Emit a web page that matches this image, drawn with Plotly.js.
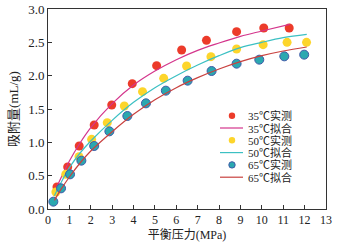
<!DOCTYPE html>
<html><head><meta charset="utf-8">
<script src="https://cdn.plot.ly/plotly-3.0.1.min.js"></script>
<style>html,body{margin:0;padding:0;background:#fff}#c{width:341px;height:246px}</style>
</head><body><div id="c"></div>
<script>
// measured data
const p35 = [0.42, 0.92, 1.46, 2.16, 2.98, 3.94, 5.08, 6.25, 7.41, 8.82, 10.09, 11.28];
const q35 = [0.33, 0.63, 0.945, 1.26, 1.56, 1.88, 2.15, 2.385, 2.53, 2.66, 2.715, 2.715];
const p50 = [0.37, 0.83, 1.45, 2.04, 2.77, 3.57, 4.42, 5.41, 6.48, 7.62, 8.82, 10.06, 11.18, 12.09];
const q50 = [0.255, 0.52, 0.785, 1.045, 1.295, 1.545, 1.76, 1.96, 2.145, 2.285, 2.4, 2.465, 2.5, 2.5];
const p65 = [0.25, 0.61, 1.03, 1.56, 2.16, 2.87, 3.71, 4.58, 5.51, 6.53, 7.65, 8.82, 9.88, 11.05, 11.98];
const q65 = [0.11, 0.31, 0.52, 0.725, 0.945, 1.165, 1.395, 1.585, 1.775, 1.925, 2.07, 2.18, 2.24, 2.29, 2.315];
// fitted curves
const fp35 = [0.3, 0.6, 1, 1.5, 2, 3, 4, 5, 6, 7, 8, 9, 10, 11.3];
const fq35 = [0.25, 0.46, 0.72, 0.99, 1.22, 1.58, 1.86, 2.07, 2.24, 2.38, 2.49, 2.59, 2.67, 2.77];
const fp50 = [0.3, 0.6, 1, 1.5, 2, 3, 4, 5, 6, 7, 8, 9, 10, 11, 12.1];
const fq50 = [0.2, 0.39, 0.62, 0.84, 1.02, 1.33, 1.6, 1.82, 2.0, 2.16, 2.3, 2.42, 2.5, 2.57, 2.62];
const fp65 = [0.3, 0.6, 1, 1.5, 2, 3, 4, 5, 6, 7, 8, 9, 10, 11, 12.1];
const fq65 = [0.13, 0.29, 0.48, 0.69, 0.87, 1.16, 1.42, 1.64, 1.82, 1.97, 2.1, 2.21, 2.3, 2.37, 2.43];
const names = ['35℃实测', '35℃拟合', '50℃实测', '50℃拟合', '65℃实测', '65℃拟合'];
const colors = ['#ec3b2a', '#d4358c', '#fdd52b', '#3cc0c3', '#2aa8b0', '#c9413f'];

const F = 'Liberation Serif, Noto Sans CJK SC, serif';
const traces = [
  {x: p35, y: q35, name: names[0], mode: 'markers', type: 'scatter',
   marker: {size: 9, color: colors[0]}},
  {x: fp35, y: fq35, name: names[1], mode: 'lines', type: 'scatter', line: {shape: 'spline', color: colors[1], width: 1.2}},
  {x: p50, y: q50, name: names[2], mode: 'markers', type: 'scatter',
   marker: {size: 9, color: colors[2]}},
  {x: fp50, y: fq50, name: names[3], mode: 'lines', type: 'scatter', line: {shape: 'spline', color: colors[3], width: 1.2}},
  {x: p65, y: q65, name: names[4], mode: 'markers', type: 'scatter',
   marker: {size: 9, color: colors[4], line: {color: '#3f5aa8', width: 1}}},
  {x: fp65, y: fq65, name: names[5], mode: 'lines', type: 'scatter', line: {shape: 'spline', color: colors[5], width: 1.2}}
];

// compact legend built in paper coordinates
const shapes = [], annotations = [];
const plotW = 278, plotH = 200;
const lx0 = 220 - 48, lx1 = 243 - 48, lmx = 232 - 48, ltx = 246 - 48;
const rowTop = 209 - 115.7, rowStep = 12.3;
names.forEach((n, i) => {
  const yc = (rowTop - i * rowStep) / plotH;
  if (i % 2 === 0) {
    const r = 3.2;
    const outline = i === 4 ? '#3f5aa8' : colors[i];
    shapes.push({type: 'circle', xref: 'paper', yref: 'paper',
      x0: (lmx - r) / plotW, x1: (lmx + r) / plotW, y0: yc - r / plotH, y1: yc + r / plotH,
      fillcolor: colors[i], line: {color: outline, width: i === 4 ? 1 : 0}});
  } else {
    shapes.push({type: 'line', xref: 'paper', yref: 'paper',
      x0: lx0 / plotW, x1: lx1 / plotW, y0: yc, y1: yc, line: {color: colors[i], width: 1.2}});
  }
  annotations.push({xref: 'paper', yref: 'paper', x: ltx / plotW, y: yc, xanchor: 'left', yanchor: 'middle',
    text: n, showarrow: false, font: {family: F, size: 11, color: '#222'}});
});

const layout = {
  width: 341, height: 246,
  margin: {l: 48, r: 15, t: 9, b: 37},
  paper_bgcolor: '#fff', plot_bgcolor: '#fff',
  font: {family: F, size: 11, color: '#222'},
  showlegend: false,
  shapes: shapes, annotations: annotations,
  xaxis: {range: [0, 13], dtick: 1, tick0: 0, showgrid: false, zeroline: false,
          showline: true, linecolor: '#333', linewidth: 1, mirror: true,
          ticks: 'inside', ticklen: 4, tickcolor: '#333',
          tickfont: {family: F, size: 12, color: '#222'},
          title: {text: '平衡压力(MPa)', font: {family: F, size: 12, color: '#222'}, standoff: 4}},
  yaxis: {range: [0, 3], dtick: 0.5, tickformat: '.1f', showgrid: false, zeroline: false,
          showline: true, linecolor: '#333', linewidth: 1, mirror: true,
          ticks: 'inside', ticklen: 4, tickcolor: '#333',
          tickfont: {family: F, size: 13, color: '#222'},
          title: {text: '吸附量(mL/g)', font: {family: F, size: 13, color: '#222'}, standoff: 6}}
};
Plotly.newPlot('c', traces, layout, {staticPlot: true, displayModeBar: false});
</script></body></html>
